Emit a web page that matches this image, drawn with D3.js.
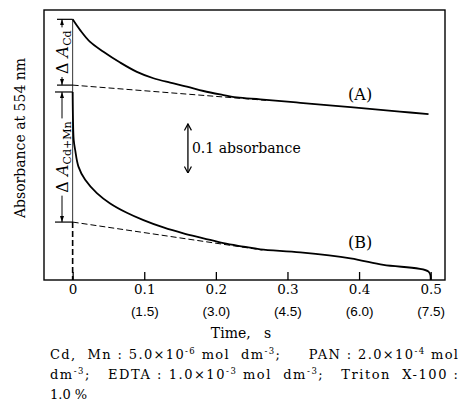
<!DOCTYPE html>
<html>
<head>
<meta charset="utf-8">
<script src="https://cdn.jsdelivr.net/npm/d3@7"></script>
<style>
  body { margin: 0; background: #fff; }
  svg { display: block; font-family: "DejaVu Serif", "Liberation Serif", serif; }
</style>
</head>
<body>
<div id="chart"></div>
<script>
// time axis (s) and the second scale in brackets for curve B
const timeTicks = [0, 0.1, 0.2, 0.3, 0.4, 0.5];
const timeLabels = ["0", "0.1", "0.2", "0.3", "0.4", "0.5"];
const timeLabelsB = ["", "(1.5)", "(3.0)", "(4.5)", "(6.0)", "(7.5)"];

// [time, absorbance]
const curveA = [
  [0, 0.531], [0.0105, 0.509], [0.0244, 0.485], [0.043, 0.465], [0.0663, 0.443],
  [0.0897, 0.424], [0.1128, 0.411], [0.1362, 0.402], [0.1595, 0.394], [0.1827, 0.385],
  [0.206, 0.378], [0.2293, 0.372], [0.262, 0.368], [0.318, 0.361], [0.388, 0.352],
  [0.457, 0.343], [0.497, 0.338]
];
const curveB = [
  [0, 0.383], [0.0005, 0.326], [0.0015, 0.285], [0.0035, 0.265], [0.0081, 0.231],
  [0.0175, 0.204], [0.0338, 0.177], [0.0524, 0.156], [0.0757, 0.137], [0.0989, 0.122],
  [0.1268, 0.107], [0.1547, 0.095], [0.1827, 0.085], [0.2106, 0.075], [0.2385, 0.068],
  [0.262, 0.0625], [0.318, 0.0564], [0.388, 0.0442], [0.434, 0.0306], [0.497, 0.0169],
  [0.5, 0]
];
// extrapolated baselines (dashed)
const baseA = [[0, 0.397], [0.27, 0.366]];
const baseB = [[0, 0.118], [0.265, 0.061]];

const scaleBarSize = 0.1;

const noteLines = [
  [["Cd,  Mn : 5.0×10"], ["-6", 1], [" mol  dm"], ["-3", 1], [";     PAN : 2.0×10"], ["-4", 1], [" mol"]],
  [["dm"], ["-3", 1], [";   EDTA : 1.0×10"], ["-3", 1], [" mol  dm"], ["-3", 1], [";   Triton  X-100 :"]],
  [["1.0 %"]]
];

const width = 464;
const height = 419;

const x = d3.scaleLinear().domain([-0.04, 0.52]).range([44, 445]);
const y = d3.scaleLinear().domain([0, 0.55]).range([280, 10]);

const svg = d3
  .select("#chart")
  .append("svg")
  .attr("width", width)
  .attr("height", height);

const defs = svg.append("defs");
defs
  .append("marker")
  .attr("id", "head")
  .attr("viewBox", "0 0 6 6")
  .attr("refX", 6)
  .attr("refY", 3)
  .attr("markerWidth", 6)
  .attr("markerHeight", 6)
  .attr("markerUnits", "userSpaceOnUse")
  .attr("orient", "auto")
  .append("path")
  .attr("d", "M0,1 L6,3 L0,5 Z")
  .attr("fill", "#000");
defs
  .append("marker")
  .attr("id", "chev")
  .attr("viewBox", "0 0 8 8")
  .attr("refX", 7.5)
  .attr("refY", 4)
  .attr("markerWidth", 8)
  .attr("markerHeight", 8)
  .attr("markerUnits", "userSpaceOnUse")
  .attr("orient", "auto-start-reverse")
  .append("path")
  .attr("d", "M1,0.5 L7.5,4 L1,7.5")
  .attr("fill", "none")
  .attr("stroke", "#000")
  .attr("stroke-width", 1.2);

// frame
svg
  .append("rect")
  .attr("x", x.range()[0])
  .attr("y", y.range()[1])
  .attr("width", x.range()[1] - x.range()[0])
  .attr("height", y.range()[0] - y.range()[1])
  .attr("fill", "none")
  .attr("stroke", "#000")
  .attr("stroke-width", 1.4);

// bottom axis, ticks pointing inward
const axis = svg
  .append("g")
  .attr("transform", `translate(0,${y(0)})`)
  .call(
    d3
      .axisBottom(x)
      .tickValues(timeTicks)
      .tickSizeInner(-8)
      .tickSizeOuter(0)
      .tickPadding(4)
      .tickFormat((d, i) => timeLabels[i])
  );
axis.select(".domain").remove();
axis.selectAll(".tick line").attr("stroke-width", 1.3);
axis
  .selectAll(".tick text")
  .attr("font-family", "DejaVu Serif")
  .attr("font-size", 13.5)
  .attr("fill", "#000");
axis
  .selectAll(".tick")
  .append("text")
  .attr("y", 36)
  .attr("text-anchor", "middle")
  .attr("font-size", 13.5)
  .attr("fill", "#000")
  .text((d, i) => timeLabelsB[i]);

svg
  .append("text")
  .attr("x", 241)
  .attr("y", 338)
  .attr("text-anchor", "middle")
  .attr("font-size", 14)
  .style("white-space", "pre")
  .text("Time,   s");

svg
  .append("text")
  .attr("transform", `translate(25,138) rotate(-90)`)
  .attr("text-anchor", "middle")
  .attr("font-size", 14)
  .text("Absorbance at 554 nm");

// vertical line at t = 0
svg
  .append("line")
  .attr("x1", x(0))
  .attr("x2", x(0))
  .attr("y1", y(curveA[0][1]))
  .attr("y2", y(baseB[0][1]))
  .attr("stroke", "#000")
  .attr("stroke-width", 0.8);
svg
  .append("line")
  .attr("x1", x(0))
  .attr("x2", x(0))
  .attr("y1", y(baseB[0][1]))
  .attr("y2", y(0))
  .attr("stroke", "#000")
  .attr("stroke-width", 1.6)
  .attr("stroke-dasharray", "6,3");

const line = d3
  .line()
  .x((d) => x(d[0]))
  .y((d) => y(d[1]))
  .curve(d3.curveCatmullRom.alpha(0.5));

[baseA, baseB].forEach((b) => {
  svg
    .append("path")
    .attr("d", line(b))
    .attr("fill", "none")
    .attr("stroke", "#000")
    .attr("stroke-width", 1)
    .attr("stroke-dasharray", "6,3");
});

[curveA, curveB].forEach((c) => {
  svg
    .append("path")
    .attr("d", line(c))
    .attr("fill", "none")
    .attr("stroke", "#000")
    .attr("stroke-width", 1.8)
    .attr("stroke-linejoin", "round");
});

svg
  .append("text")
  .attr("x", x(0.4015))
  .attr("y", y(curveA[15][1]) - 12)
  .attr("text-anchor", "middle")
  .attr("font-size", 16)
  .text("(A)");
svg
  .append("text")
  .attr("x", x(0.4015))
  .attr("y", y(curveB[17][1]) - 10)
  .attr("text-anchor", "middle")
  .attr("font-size", 16)
  .text("(B)");

// scale bar
const barX = x(0.161);
const barTop = 0.318;
svg
  .append("line")
  .attr("x1", barX)
  .attr("x2", barX)
  .attr("y1", y(barTop))
  .attr("y2", y(barTop - scaleBarSize))
  .attr("stroke", "#000")
  .attr("stroke-width", 1.3)
  .attr("marker-start", "url(#chev)")
  .attr("marker-end", "url(#chev)");
svg
  .append("text")
  .attr("x", barX + 4)
  .attr("y", y(barTop - scaleBarSize / 2))
  .attr("dy", "0.35em")
  .attr("font-size", 14)
  .text("0.1 absorbance");

// ΔA dimension marks on the left
const dimension = (xPix, tickLeft, top, bot, sub) => {
  const yTop = y(top);
  const yBot = y(bot);
  const mid = (yTop + yBot) / 2;
  [yTop, yBot].forEach((yy) => {
    svg
      .append("line")
      .attr("x1", tickLeft)
      .attr("x2", x(0))
      .attr("y1", yy)
      .attr("y2", yy)
      .attr("stroke", "#000")
      .attr("stroke-width", 1.2);
  });
  const label = svg
    .append("text")
    .attr("transform", `translate(${xPix},${mid}) rotate(-90)`)
    .attr("text-anchor", "middle")
    .attr("dy", "0.35em")
    .attr("font-size", 16);
  label.append("tspan").text("Δ ");
  label.append("tspan").attr("font-style", "italic").text("A");
  label.append("tspan").attr("font-size", 11).attr("dy", 3).text(sub);
  const half = label.node().getComputedTextLength() / 2 + 3;
  [
    [mid - half, yTop],
    [mid + half, yBot]
  ].forEach(([y1, y2]) => {
    svg
      .append("line")
      .attr("x1", xPix)
      .attr("x2", xPix)
      .attr("y1", y1)
      .attr("y2", y2)
      .attr("stroke", "#000")
      .attr("stroke-width", 1)
      .attr("marker-end", "url(#head)");
  });
};
dimension(62, 57, curveA[0][1], baseA[0][1], "Cd");
dimension(62, 55, curveB[0][1], baseB[0][1], "Cd+Mn");

// footnote
noteLines.forEach((parts, li) => {
  const t = svg
    .append("text")
    .attr("x", 50)
    .attr("y", 359 + li * 20)
    .attr("font-size", 13)
    .style("white-space", "pre");
  let shift = 0;
  parts.forEach(([s, sup]) => {
    const target = sup ? -5 : 0;
    t.append("tspan")
      .attr("dy", target - shift)
      .attr("font-size", sup ? 8.5 : 13)
      .text(s);
    shift = target;
  });
  if (li < 2) t.attr("textLength", 408).attr("lengthAdjust", "spacing");
});
</script>
</body>
</html>
